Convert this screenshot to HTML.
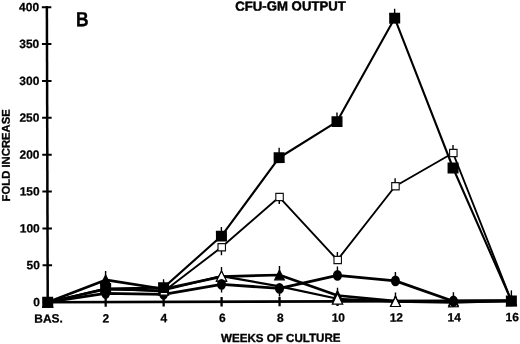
<!DOCTYPE html>
<html><head><meta charset="utf-8"><style>
html,body{margin:0;padding:0;background:#fff;}
body{width:520px;height:344px;overflow:hidden;}
svg{display:block;filter:grayscale(100%);}
.t{font-family:"Liberation Sans",sans-serif;font-weight:bold;font-size:12px;fill:#000;stroke:#000;stroke-width:0.25px;}
</style></head><body>
<svg width="520" height="344" viewBox="0 0 520 344">
<g transform="rotate(-0.165 260 172)">
<text transform="translate(76.4,25.8) scale(0.85,1)" stroke="#000" stroke-width="0.35" style="font-family:'Liberation Sans',sans-serif;font-weight:bold;font-size:20.5px">B</text>
<text x="291.0" y="10.6" text-anchor="middle" stroke="#000" stroke-width="0.45" style="font-family:'Liberation Sans',sans-serif;font-weight:bold;font-size:13.2px">CFU-GM OUTPUT</text>
<text x="280.3" y="342" text-anchor="middle" stroke="#000" stroke-width="0.35" style="font-family:'Liberation Sans',sans-serif;font-weight:bold;font-size:11.6px">WEEKS OF CULTURE</text>
<text transform="translate(9.8,154.6) rotate(-90)" text-anchor="middle" stroke="#000" stroke-width="0.3" style="font-family:'Liberation Sans',sans-serif;font-weight:bold;font-size:11.3px">FOLD INCREASE</text>
<line x1="47.35" y1="5.5" x2="47.35" y2="303" stroke="#000" stroke-width="2.5"/>
<line x1="46" y1="301.6" x2="513" y2="301.6" stroke="#000" stroke-width="2.6"/>
<line x1="42.3" y1="301.60" x2="51.8" y2="301.60" stroke="#000" stroke-width="2.0"/>
<text x="39.6" y="305.50" text-anchor="end" class="t">0</text>
<line x1="42.3" y1="264.73" x2="51.8" y2="264.73" stroke="#000" stroke-width="2.0"/>
<text x="39.6" y="268.62" text-anchor="end" class="t">50</text>
<line x1="42.3" y1="227.85" x2="51.8" y2="227.85" stroke="#000" stroke-width="2.0"/>
<text x="39.6" y="231.75" text-anchor="end" class="t">100</text>
<line x1="42.3" y1="190.98" x2="51.8" y2="190.98" stroke="#000" stroke-width="2.0"/>
<text x="39.6" y="194.88" text-anchor="end" class="t">150</text>
<line x1="42.3" y1="154.10" x2="51.8" y2="154.10" stroke="#000" stroke-width="2.0"/>
<text x="39.6" y="158.00" text-anchor="end" class="t">200</text>
<line x1="42.3" y1="117.23" x2="51.8" y2="117.23" stroke="#000" stroke-width="2.0"/>
<text x="39.6" y="121.13" text-anchor="end" class="t">250</text>
<line x1="42.3" y1="80.35" x2="51.8" y2="80.35" stroke="#000" stroke-width="2.0"/>
<text x="39.6" y="84.25" text-anchor="end" class="t">300</text>
<line x1="42.3" y1="43.48" x2="51.8" y2="43.48" stroke="#000" stroke-width="2.0"/>
<text x="39.6" y="47.38" text-anchor="end" class="t">350</text>
<line x1="42.3" y1="6.60" x2="51.8" y2="6.60" stroke="#000" stroke-width="2.0"/>
<text x="39.6" y="10.50" text-anchor="end" class="t">400</text>
<line x1="47.35" y1="297" x2="47.35" y2="306.3" stroke="#000" stroke-width="2.3"/>
<text x="48.15" y="322" text-anchor="middle" class="t">BAS.</text>
<line x1="105.31" y1="297" x2="105.31" y2="306.3" stroke="#000" stroke-width="2.3"/>
<text x="105.31" y="322" text-anchor="middle" class="t">2</text>
<line x1="163.27" y1="297" x2="163.27" y2="306.3" stroke="#000" stroke-width="2.3"/>
<text x="163.47" y="322" text-anchor="middle" class="t">4</text>
<line x1="221.23" y1="297" x2="221.23" y2="306.3" stroke="#000" stroke-width="2.3"/>
<text x="222.03" y="322" text-anchor="middle" class="t">6</text>
<line x1="279.19" y1="297" x2="279.19" y2="306.3" stroke="#000" stroke-width="2.3"/>
<text x="279.99" y="322" text-anchor="middle" class="t">8</text>
<line x1="337.15" y1="297" x2="337.15" y2="306.3" stroke="#000" stroke-width="2.3"/>
<text x="337.95" y="322" text-anchor="middle" class="t">10</text>
<line x1="395.11" y1="297" x2="395.11" y2="306.3" stroke="#000" stroke-width="2.3"/>
<text x="395.91" y="322" text-anchor="middle" class="t">12</text>
<line x1="453.07" y1="297" x2="453.07" y2="306.3" stroke="#000" stroke-width="2.3"/>
<text x="453.87" y="322" text-anchor="middle" class="t">14</text>
<line x1="511.03" y1="297" x2="511.03" y2="306.3" stroke="#000" stroke-width="2.3"/>
<text x="511.83" y="322" text-anchor="middle" class="t">16</text>
<polyline points="47.35,301.60 105.31,279.48 163.27,288.69 221.23,276.53 279.19,275.05 337.15,295.70 395.11,301.60 453.07,301.60 511.03,301.60" fill="none" stroke="#000" stroke-width="2.7" stroke-linejoin="round"/>
<polyline points="47.35,301.60 105.31,289.06 163.27,290.02 221.23,275.94 279.19,286.48 337.15,299.02 395.11,301.97 453.07,303.22 511.03,301.60" fill="none" stroke="#000" stroke-width="2.2" stroke-linejoin="round"/>
<polyline points="47.35,301.60 105.31,292.90 163.27,294.00 221.23,284.27 279.19,288.47 337.15,275.64 395.11,281.32 453.07,301.82 511.03,301.60" fill="none" stroke="#000" stroke-width="2.8" stroke-linejoin="round"/>
<polyline points="47.35,301.60 105.31,288.33 163.27,291.20 221.23,247.17 279.19,197.10 337.15,260.23 395.11,186.62 453.07,153.58 511.03,301.60" fill="none" stroke="#000" stroke-width="1.9" stroke-linejoin="round"/>
<polyline points="47.35,301.60 105.31,288.03 163.27,287.37 221.23,235.96 279.19,157.79 337.15,121.80 395.11,18.62 453.07,168.56 511.03,301.60" fill="none" stroke="#000" stroke-width="2.1" stroke-linejoin="round"/>
<line x1="105.31" y1="279.03" x2="105.31" y2="288.03" stroke="#000" stroke-width="1.4"/>
<line x1="163.27" y1="278.87" x2="163.27" y2="287.37" stroke="#000" stroke-width="1.4"/>
<line x1="221.23" y1="226.96" x2="221.23" y2="235.96" stroke="#000" stroke-width="1.4"/>
<line x1="279.19" y1="147.79" x2="279.19" y2="157.79" stroke="#000" stroke-width="1.4"/>
<line x1="337.15" y1="112.80" x2="337.15" y2="121.80" stroke="#000" stroke-width="1.4"/>
<line x1="395.11" y1="9.12" x2="395.11" y2="18.62" stroke="#000" stroke-width="1.4"/>
<line x1="511.03" y1="291.10" x2="511.03" y2="301.60" stroke="#000" stroke-width="1.4"/>
<line x1="337.15" y1="252.23" x2="337.15" y2="260.23" stroke="#000" stroke-width="1.4"/>
<line x1="395.11" y1="178.62" x2="395.11" y2="186.62" stroke="#000" stroke-width="1.4"/>
<line x1="453.07" y1="145.58" x2="453.07" y2="153.58" stroke="#000" stroke-width="1.4"/>
<line x1="337.15" y1="266.64" x2="337.15" y2="275.64" stroke="#000" stroke-width="1.4"/>
<line x1="395.11" y1="272.32" x2="395.11" y2="281.32" stroke="#000" stroke-width="1.4"/>
<line x1="453.07" y1="292.82" x2="453.07" y2="301.82" stroke="#000" stroke-width="1.4"/>
<line x1="105.31" y1="270.48" x2="105.31" y2="279.48" stroke="#000" stroke-width="1.4"/>
<line x1="279.19" y1="266.05" x2="279.19" y2="275.05" stroke="#000" stroke-width="1.4"/>
<line x1="221.23" y1="266.94" x2="221.23" y2="275.94" stroke="#000" stroke-width="1.4"/>
<line x1="337.15" y1="288.02" x2="337.15" y2="299.02" stroke="#000" stroke-width="1.4"/>
<line x1="395.11" y1="292.97" x2="395.11" y2="301.97" stroke="#000" stroke-width="1.4"/>
<line x1="221.23" y1="247.17" x2="221.23" y2="255.17" stroke="#000" stroke-width="1.4"/>
<line x1="279.19" y1="197.10" x2="279.19" y2="204.10" stroke="#000" stroke-width="1.4"/>
<line x1="279.19" y1="288.47" x2="279.19" y2="296.47" stroke="#000" stroke-width="1.4"/>
<line x1="221.23" y1="284.27" x2="221.23" y2="292.27" stroke="#000" stroke-width="1.4"/>
<polygon points="47.35,296.80 52.15,306.40 42.55,306.40" fill="#000" stroke="#000" stroke-width="1.2" stroke-linejoin="miter"/>
<polygon points="105.31,274.68 110.11,284.28 100.51,284.28" fill="#000" stroke="#000" stroke-width="1.2" stroke-linejoin="miter"/>
<polygon points="163.27,283.89 168.07,293.49 158.47,293.49" fill="#000" stroke="#000" stroke-width="1.2" stroke-linejoin="miter"/>
<polygon points="221.23,271.73 226.03,281.33 216.43,281.33" fill="#000" stroke="#000" stroke-width="1.2" stroke-linejoin="miter"/>
<polygon points="279.19,270.25 283.99,279.85 274.39,279.85" fill="#000" stroke="#000" stroke-width="1.2" stroke-linejoin="miter"/>
<polygon points="337.15,290.90 341.95,300.50 332.35,300.50" fill="#000" stroke="#000" stroke-width="1.2" stroke-linejoin="miter"/>
<polygon points="395.11,296.80 399.91,306.40 390.31,306.40" fill="#000" stroke="#000" stroke-width="1.2" stroke-linejoin="miter"/>
<polygon points="453.07,296.80 457.87,306.40 448.27,306.40" fill="#000" stroke="#000" stroke-width="1.2" stroke-linejoin="miter"/>
<polygon points="511.03,296.80 515.83,306.40 506.23,306.40" fill="#000" stroke="#000" stroke-width="1.2" stroke-linejoin="miter"/>
<polygon points="47.35,296.70 52.30,306.50 42.40,306.50" fill="#fff" stroke="#000" stroke-width="1.2" stroke-linejoin="miter"/>
<polygon points="105.31,284.16 110.26,293.96 100.36,293.96" fill="#fff" stroke="#000" stroke-width="1.2" stroke-linejoin="miter"/>
<polygon points="163.27,285.12 168.22,294.92 158.32,294.92" fill="#fff" stroke="#000" stroke-width="1.2" stroke-linejoin="miter"/>
<polygon points="221.23,270.83 226.43,281.04 216.03,281.04" fill="#fff" stroke="#000" stroke-width="1.2" stroke-linejoin="miter"/>
<polygon points="337.15,293.62 342.35,304.42 331.95,304.42" fill="#fff" stroke="#000" stroke-width="1.2" stroke-linejoin="miter"/>
<polygon points="395.11,297.07 400.06,306.87 390.16,306.87" fill="#fff" stroke="#000" stroke-width="1.2" stroke-linejoin="miter"/>
<polygon points="453.07,299.12 457.77,307.32 448.37,307.32" fill="#fff" stroke="#000" stroke-width="1.2" stroke-linejoin="miter"/>
<polygon points="511.03,296.70 515.98,306.50 506.08,306.50" fill="#fff" stroke="#000" stroke-width="1.2" stroke-linejoin="miter"/>
<ellipse cx="47.35" cy="301.60" rx="4.5" ry="5.4" fill="#000"/>
<ellipse cx="105.31" cy="292.90" rx="4.5" ry="5.4" fill="#000"/>
<ellipse cx="163.27" cy="294.00" rx="4.5" ry="5.4" fill="#000"/>
<ellipse cx="221.23" cy="284.27" rx="4.5" ry="5.4" fill="#000"/>
<ellipse cx="279.19" cy="288.47" rx="4.5" ry="5.4" fill="#000"/>
<ellipse cx="337.15" cy="275.64" rx="4.5" ry="5.4" fill="#000"/>
<ellipse cx="395.11" cy="281.32" rx="4.5" ry="5.4" fill="#000"/>
<ellipse cx="453.07" cy="301.82" rx="4.5" ry="5.7" fill="#000"/>
<ellipse cx="511.03" cy="301.60" rx="4.5" ry="5.4" fill="#000"/>
<rect x="101.89" y="284.70" width="7.45" height="7.25" fill="#fff" stroke="#111" stroke-width="1.15"/>
<rect x="159.84" y="287.58" width="7.45" height="7.25" fill="#fff" stroke="#111" stroke-width="1.15"/>
<rect x="217.80" y="243.55" width="7.45" height="7.25" fill="#fff" stroke="#111" stroke-width="1.15"/>
<rect x="275.76" y="193.47" width="7.45" height="7.25" fill="#fff" stroke="#111" stroke-width="1.15"/>
<rect x="333.73" y="256.60" width="7.45" height="7.25" fill="#fff" stroke="#111" stroke-width="1.15"/>
<rect x="391.69" y="183.00" width="7.45" height="7.25" fill="#fff" stroke="#111" stroke-width="1.15"/>
<rect x="449.65" y="149.96" width="7.45" height="7.25" fill="#fff" stroke="#111" stroke-width="1.15"/>
<rect x="41.85" y="296.20" width="11" height="10.8" fill="#000"/>
<rect x="99.81" y="282.63" width="11" height="10.8" fill="#000"/>
<rect x="157.77" y="281.97" width="11" height="10.8" fill="#000"/>
<rect x="215.73" y="230.56" width="11" height="10.8" fill="#000"/>
<rect x="273.69" y="152.39" width="11" height="10.8" fill="#000"/>
<rect x="331.65" y="116.40" width="11" height="10.8" fill="#000"/>
<rect x="389.61" y="13.22" width="11" height="10.8" fill="#000"/>
<rect x="447.57" y="163.16" width="11" height="10.8" fill="#000"/>
<rect x="505.53" y="296.20" width="11" height="10.8" fill="#000"/>
</g>
</svg>
</body></html>
